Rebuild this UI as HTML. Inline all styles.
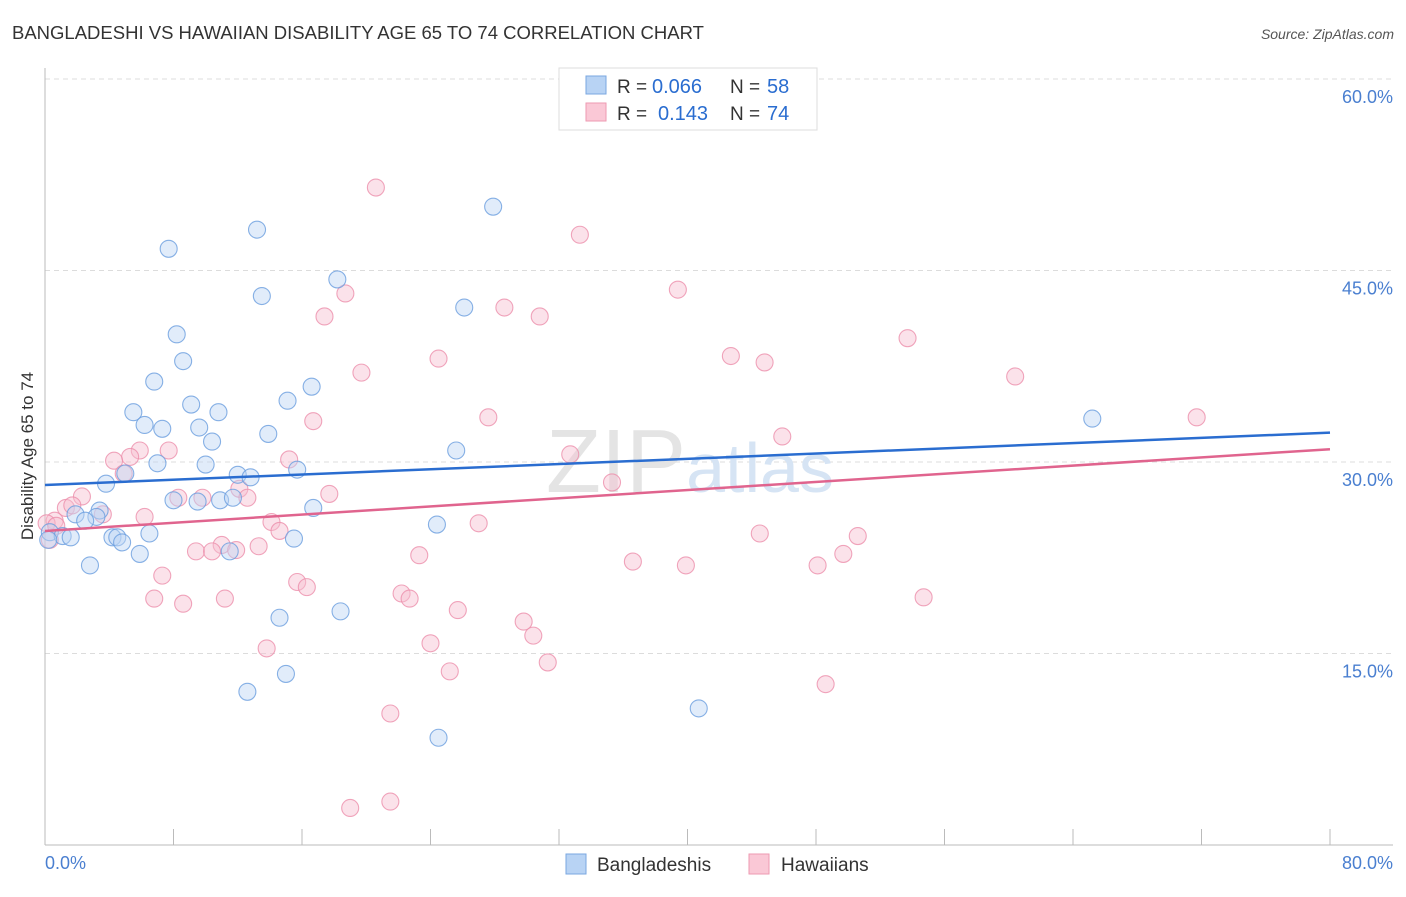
<!DOCTYPE html>
<html><head><meta charset="utf-8"><style>
body{margin:0;background:#fff;font-family:"Liberation Sans",sans-serif}
svg text{font-family:"Liberation Sans",sans-serif}
</style></head><body>
<svg width="1406" height="892" xmlns="http://www.w3.org/2000/svg">
<text x="12" y="39" font-size="18.5" fill="#333">BANGLADESHI VS HAWAIIAN DISABILITY AGE 65 TO 74 CORRELATION CHART</text>
<text x="1394" y="39" font-size="14" fill="#555" font-style="italic" text-anchor="end">Source: ZipAtlas.com</text>
<g id="grid"></g>
<text x="690" y="492" font-size="90" fill="#e4e4e4" text-anchor="middle" font-family="Liberation Serif">ZIP<tspan fill="#d6e4f4" font-family="Liberation Sans" font-size="70">atlas</tspan></text>
<g id="pts"></g>
<g id="trend"></g>
<text x="33" y="456" font-size="17" fill="#333" text-anchor="middle" transform="rotate(-90 33 456)">Disability Age 65 to 74</text>
<text x="45" y="869" font-size="18" fill="#4a7fd0">0.0%</text>
<text x="1393" y="869" font-size="18" fill="#4a7fd0" text-anchor="end">80.0%</text>
<g>
<rect x="559" y="68" width="258" height="62" fill="#fff" stroke="#ddd"/>
<rect x="586" y="76" width="20" height="18" fill="#b8d3f4" stroke="#7aa7e0"/>
<rect x="586" y="103" width="20" height="18" fill="#fac8d6" stroke="#ee9ab2"/>
<text x="617" y="93" font-size="19" fill="#333">R =</text>
<text x="652" y="93" font-size="20" fill="#2a6dd0">0.066</text>
<text x="730" y="93" font-size="19" fill="#333">N =</text>
<text x="767" y="93" font-size="20" fill="#2a6dd0">58</text>
<text x="617" y="120" font-size="19" fill="#333">R =</text>
<text x="658" y="120" font-size="20" fill="#2a6dd0">0.143</text>
<text x="730" y="120" font-size="19" fill="#333">N =</text>
<text x="767" y="120" font-size="20" fill="#2a6dd0">74</text>
</g>
<g>
<rect x="566" y="854" width="20" height="20" fill="#b8d3f4" stroke="#7aa7e0"/>
<text x="597" y="871" font-size="19" fill="#333">Bangladeshis</text>
<rect x="749" y="854" width="20" height="20" fill="#fac8d6" stroke="#ee9ab2"/>
<text x="781" y="871" font-size="19" fill="#333">Hawaiians</text>
</g>
</svg>
<script>
const yTicks=[15,30,45,60];
const yTickLabels=["15.0%","30.0%","45.0%","60.0%"];
const xTicks=[0,8,16,24,32,40,48,56,64,72,80];
const blueX=[27.9,13.2,7.7,18.2,13.5,26.1,8.2,8.6,6.8,16.6,15.1,9.1,5.5,10.8,6.2,7.3,9.6,13.9,10.4,25.6,7.0,10.0,15.7,5.0,12.0,12.8,3.8,8.0,9.5,10.9,11.7,16.7,1.9,3.4,3.2,2.5,24.4,0.3,6.5,1.1,1.6,4.2,4.5,4.8,15.5,5.9,11.5,2.8,14.6,18.4,65.2,40.7,12.6,15.0,24.5,0.2];
const blueY=[50.0,48.2,46.7,44.3,43.0,42.1,40.0,37.9,36.3,35.9,34.8,34.5,33.9,33.9,32.9,32.6,32.7,32.2,31.6,30.9,29.9,29.8,29.4,29.1,29.0,28.8,28.3,27.0,26.9,27.0,27.2,26.4,25.9,26.2,25.7,25.4,25.1,24.5,24.4,24.2,24.1,24.1,24.1,23.7,24.0,22.8,23.0,21.9,17.8,18.3,33.4,10.7,12.0,13.4,8.4,23.9];
const pinkX=[20.6,33.3,39.4,18.7,28.6,17.4,30.8,53.7,24.5,42.7,44.8,19.7,60.4,27.6,71.7,16.7,45.9,5.9,7.7,5.3,32.7,15.2,4.3,4.9,35.3,12.1,2.3,17.7,8.3,9.8,12.6,1.3,1.7,3.6,6.2,0.6,0.1,14.1,27.0,14.6,44.5,50.6,11.0,13.3,9.4,10.4,11.9,23.3,49.7,36.6,39.9,48.1,7.3,15.7,16.3,22.2,22.7,6.8,11.2,8.6,54.7,25.7,29.8,30.4,24.0,13.8,31.3,25.2,48.6,21.5,21.5,19.0,0.3,0.7];
const pinkY=[51.5,47.8,43.5,43.2,42.1,41.4,41.4,39.7,38.1,38.3,37.8,37.0,36.7,33.5,33.5,33.2,32.0,30.9,30.9,30.4,30.6,30.2,30.1,29.1,28.4,27.9,27.3,27.5,27.2,27.2,27.2,26.4,26.6,25.9,25.7,25.4,25.2,25.3,25.2,24.6,24.4,24.2,23.5,23.4,23.0,23.0,23.1,22.7,22.8,22.2,21.9,21.9,21.1,20.6,20.2,19.7,19.3,19.3,19.3,18.9,19.4,18.4,17.5,16.4,15.8,15.4,14.3,13.6,12.6,10.3,3.4,2.9,23.9,25.0];
const blueTrend=[28.2,32.3];
const pinkTrend=[24.6,31.0];
const NS="http://www.w3.org/2000/svg";
const sx=v=>45+v/80*1285, sy=v=>845-v/60*766;
function mk(t,a,p){const e=document.createElementNS(NS,t);for(const k in a)e.setAttribute(k,a[k]);p.appendChild(e);return e;}
const grid=document.getElementById('grid');
yTicks.forEach((t,i)=>{
 const l=mk('line',{x1:45,x2:1393,y1:sy(t),y2:sy(t),stroke:'#dcdcdc','stroke-dasharray':'5,4'},grid);
 
 
 const tx=mk('text',{x:1393,y:sy(t)+24,'font-size':18,fill:'#4a7fd0','text-anchor':'end'},grid);
 tx.textContent=yTickLabels[i];
 
 
});
let ax=mk('line',{x1:45,x2:45,y1:68,y2:845,stroke:'#bbb'},grid);


ax=mk('line',{x1:45,x2:1393,y1:845,y2:845,stroke:'#bbb'},grid);


xTicks.forEach(t=>{const l=mk('line',{x1:sx(t),x2:sx(t),y1:829,y2:845,stroke:'#bbb'},grid);
 
 });
const pts=document.getElementById('pts');
function draw(X,Y,f,s,n){X.forEach((x,i)=>{const c=mk('circle',{cx:sx(x),cy:sy(Y[i]),r:8.5,fill:f,'fill-opacity':0.45,stroke:s,'stroke-opacity':0.8,'stroke-width':1.1},pts);
 
 });}
draw(pinkX,pinkY,'#f7bfd0','#ec8fab','hawaiian-point');
draw(blueX,blueY,'#bcd4f3','#6a9ddf','bangladeshi-point');
const tr=document.getElementById('trend');
let t1=mk('line',{x1:sx(0),x2:sx(80),y1:sy(blueTrend[0]),y2:sy(blueTrend[1]),stroke:'#2a6dd0','stroke-width':2.5},tr);


let t2=mk('line',{x1:sx(0),x2:sx(80),y1:sy(pinkTrend[0]),y2:sy(pinkTrend[1]),stroke:'#e0648e','stroke-width':2.5},tr);


</script>
</body></html>
